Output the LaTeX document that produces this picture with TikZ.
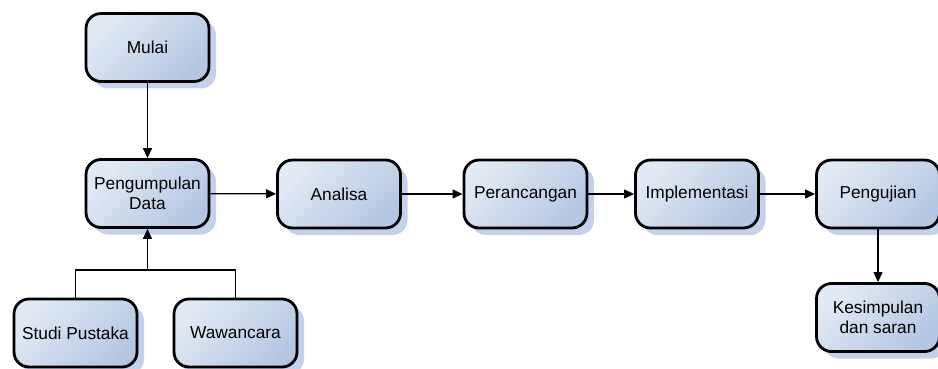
\documentclass[tikz,border=0pt]{standalone}
\usepackage{fontspec}
\setmainfont{Liberation Sans}
\usetikzlibrary{arrows.meta,shadows}
\definecolor{boxlight}{HTML}{E2EAF5}
\definecolor{boxdark}{HTML}{B4C7E2}
\definecolor{shadowblue}{HTML}{C3D2EA}
\begin{document}
\begin{tikzpicture}[x=1pt,y=-1pt,
  flowbox/.style={draw=black, line width=2.8pt, rounded corners=15pt,
    minimum width=123pt, minimum height=68pt, align=center,
    font=\fontsize{17.3}{19.5}\selectfont, inner sep=2pt,
    top color=boxlight, bottom color=boxdark, shading angle=45,
    general shadow={shadow xshift=7pt, shadow yshift=-7pt,
      fill=shadowblue}},
  conn/.style={line width=1.3pt, draw=black},
  arr/.style={conn, -{Triangle[length=10pt,width=9pt]}}]
\useasboundingbox (0,0) rectangle (938,369);
\node[flowbox] (mulai) at (147.5,47.5) {Mulai};
\node[flowbox] (data) at (147.5,193.5) {Pengumpulan\\Data};
\node[flowbox] (analisa) at (339,194) {Analisa};
\node[flowbox] (rancang) at (525.5,194) {Perancangan};
\node[flowbox] (impl) at (697,194) {Implementasi};
\node[flowbox] (uji) at (878,194) {Pengujian};
\node[flowbox] (simpul) at (878,317.5) {Kesimpulan\\dan saran};
\node[flowbox] (studi) at (75.5,333) {Studi Pustaka};
\node[flowbox] (wawan) at (235.5,333) {Wawancara};
\coordinate (join) at (147.5,270);
\draw[arr] (mulai) -- (data);
\draw[arr] (data) -- (analisa);
\draw[arr] (analisa) -- (rancang);
\draw[arr] (rancang) -- (impl);
\draw[arr] (impl) -- (uji);
\draw[arr] (uji) -- (simpul);
\draw[conn] (studi.north) |- (join) -| (wawan.north);
\draw[arr] (join) -- (data.south);
\end{tikzpicture}
\end{document}
